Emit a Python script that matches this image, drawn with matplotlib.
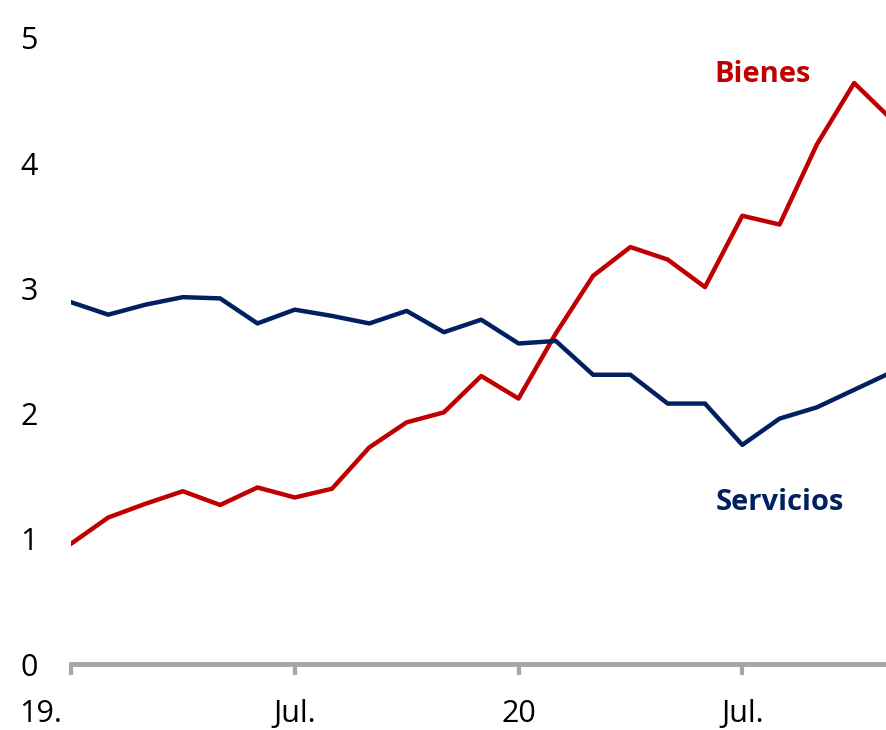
import matplotlib
matplotlib.use("Agg")
import matplotlib.pyplot as plt
import matplotlib.transforms as mtransforms

plt.rcParams['font.family'] = ['Open Sans', 'DejaVu Sans']

# monthly values, Jan 2019 .. Nov 2020
months = list(range(23))
bienes = [0.96, 1.17, 1.28, 1.38, 1.27, 1.41, 1.33, 1.40, 1.73, 1.93, 2.01, 2.30,
          2.12, 2.64, 3.10, 3.33, 3.23, 3.01, 3.58, 3.51, 4.15, 4.64, 4.35]
servicios = [2.89, 2.79, 2.87, 2.93, 2.92, 2.72, 2.83, 2.78, 2.72, 2.82, 2.65, 2.75,
             2.56, 2.58, 2.31, 2.31, 2.08, 2.08, 1.75, 1.96, 2.05, 2.19, 2.33]

tick_pos = [0, 6, 12, 18]
tick_labels = ['19.', 'Jul.', '20', 'Jul.']

red = '#C00000'
navy = '#002060'
grey = '#A6A6A6'

fig = plt.figure(figsize=(8.87, 7.30), dpi=100)
ax = fig.add_axes([0.080, 0.0904, 0.920, 0.8576])

ax.plot(months, bienes, color=red, lw=3.2)
ax.plot(months, servicios, color=navy, lw=3.2)

ax.set_xlim(0, 21.88)
ax.set_ylim(0, 5)
ax.set_yticks([0, 1, 2, 3, 4, 5])
ax.set_xticks(tick_pos)
ax.set_xticklabels(tick_labels)

for s in ['top', 'right', 'left']:
    ax.spines[s].set_visible(False)
ax.spines['bottom'].set_color(grey)
ax.spines['bottom'].set_linewidth(3.5)
ax.tick_params(axis='x', length=8, width=3, color=grey, pad=17, labelsize=22)
ax.tick_params(axis='y', length=0, pad=24, labelsize=22)

# first label sits left of its tick
lab0 = ax.get_xticklabels()[0]
lab0.set_ha('right')
lab0.set_transform(lab0.get_transform() + mtransforms.ScaledTranslation(-0.09, 0, fig.dpi_scale_trans))

ax.text(18.55, 4.71, 'Bienes', color=red, fontsize=21, fontweight='bold', ha='center', va='center')
ax.text(19.0, 1.29, 'Servicios', color=navy, fontsize=21, fontweight='bold', ha='center', va='center')

fig.savefig('out.png', dpi=100)
